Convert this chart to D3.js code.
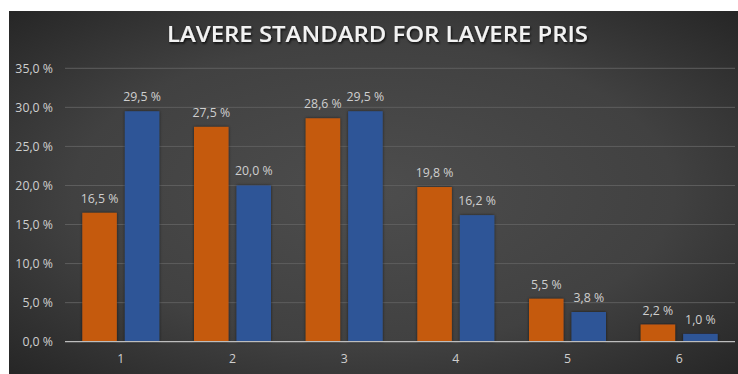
<!DOCTYPE html>
<html>
<head>
<meta charset="utf-8">
<script src="https://cdn.jsdelivr.net/npm/d3@7"></script>
<style>
  html, body { margin: 0; padding: 0; background: #ffffff; }
  svg { display: block; }
</style>
</head>
<body>
<svg id="chart" width="738" height="374"></svg>
<script>
// Chart data
const categories = ["1", "2", "3", "4", "5", "6"];
const seriesOrange = [16.5, 27.5, 28.6, 19.8, 5.5, 2.2];
const seriesBlue = [29.5, 20.0, 29.5, 16.2, 3.8, 1.0];
const yTicks = [0, 5, 10, 15, 20, 25, 30, 35];
const title = "LAVERE STANDARD FOR LAVERE PRIS";

const svg = d3.select("#chart");
const W = 738, H = 374;

// Background panel with a soft radial shading
const defs = svg.append("defs");
const grad = defs.append("radialGradient")
  .attr("id", "bg").attr("cx", "50%").attr("cy", "50%").attr("r", "75%");
grad.append("stop").attr("offset", "0%").attr("stop-color", "#4d4d4d");
grad.append("stop").attr("offset", "55%").attr("stop-color", "#414141");
grad.append("stop").attr("offset", "100%").attr("stop-color", "#222222");

const shadow = defs.append("filter").attr("id", "txtShadow")
  .attr("x", "-10%").attr("y", "-30%").attr("width", "120%").attr("height", "160%");
shadow.append("feDropShadow").attr("dx", 1).attr("dy", 1.5)
  .attr("stdDeviation", 1.2).attr("flood-color", "#000").attr("flood-opacity", 0.8);

const barShadow = defs.append("filter").attr("id", "barShadow")
  .attr("x", "-20%").attr("y", "-5%").attr("width", "140%").attr("height", "110%");
barShadow.append("feDropShadow").attr("dx", 0).attr("dy", 0)
  .attr("stdDeviation", 1.5).attr("flood-color", "#000").attr("flood-opacity", 0.6);

svg.append("rect").attr("x", 9).attr("y", 11).attr("width", W - 9).attr("height", H - 11)
  .attr("fill", "url(#bg)");

// Title
svg.append("text")
  .attr("x", 377.5).attr("y", 41.7)
  .attr("text-anchor", "middle")
  .attr("font-family", "'Open Sans', sans-serif")
  .attr("font-weight", 600)
  .attr("font-size", 21)
  .attr("textLength", 421).attr("lengthAdjust", "spacingAndGlyphs")
  .attr("fill", "#f2f2f2")
  .attr("filter", "url(#txtShadow)")
  .text(title);

// Plot area
const plot = { left: 65, right: 735, top: 68.3, bottom: 341.7 };

const x = d3.scaleBand().domain(categories).range([plot.left, plot.right]).paddingInner(0).paddingOuter(0);
const y = d3.scaleLinear().domain([0, 35]).range([plot.bottom, plot.top]);

const labelFont = "'Open Sans', sans-serif";
const labelSize = 12.3;
const labelColor = "#cfcfcf";

// Gridlines
svg.append("g").selectAll("line").data(yTicks.filter(d => d > 0)).join("line")
  .attr("x1", plot.left).attr("x2", plot.right)
  .attr("y1", d => y(d)).attr("y2", d => y(d))
  .attr("stroke", "#5e5e5e").attr("stroke-width", 1);

// Y axis labels
const fmt = v => v.toFixed(1).replace(".", ",") + " %";
const yAxis = d3.axisLeft(y).tickValues(yTicks).tickFormat(fmt).tickSize(0).tickPadding(12);
const gy = svg.append("g").attr("transform", `translate(${plot.left},0)`).call(yAxis);
gy.select(".domain").remove();
gy.selectAll("text")
  .attr("font-family", labelFont).attr("font-size", labelSize)
  .attr("fill", labelColor);

// Bars
const barW = 34.5, innerGap = 8;
const groups = categories.map((c, i) => ({ c, o: seriesOrange[i], b: seriesBlue[i] }));
const center = c => x(c) + x.bandwidth() / 2;

const bars = [];
groups.forEach(g => {
  bars.push({ c: g.c, v: g.o, x0: center(g.c) - innerGap / 2 - barW, color: "#c55a11" });
  bars.push({ c: g.c, v: g.b, x0: center(g.c) + innerGap / 2, color: "#2f5597" });
});

svg.append("g").selectAll("rect").data(bars).join("rect")
  .attr("x", d => d.x0).attr("width", barW)
  .attr("y", d => y(d.v)).attr("height", d => y(0) - y(d.v))
  .attr("fill", d => d.color)
  .attr("filter", "url(#barShadow)");

// Value labels
svg.append("g").selectAll("text").data(bars).join("text")
  .attr("x", d => d.x0 + barW / 2)
  .attr("y", d => y(d.v) - 10)
  .attr("text-anchor", "middle")
  .attr("font-family", labelFont).attr("font-size", labelSize)
  .attr("fill", labelColor)
  .text(d => fmt(d.v));

// X axis
svg.append("line")
  .attr("x1", plot.left).attr("x2", plot.right)
  .attr("y1", y(0)).attr("y2", y(0))
  .attr("stroke", "#bdbdbd").attr("stroke-width", 1.3);

const xAxis = d3.axisBottom(x).tickSize(0).tickPadding(13);
const gx = svg.append("g").attr("transform", `translate(0,${plot.bottom})`).call(xAxis);
gx.select(".domain").remove();
gx.selectAll("text")
  .attr("font-family", labelFont).attr("font-size", labelSize)
  .attr("fill", labelColor);
</script>
</body>
</html>
